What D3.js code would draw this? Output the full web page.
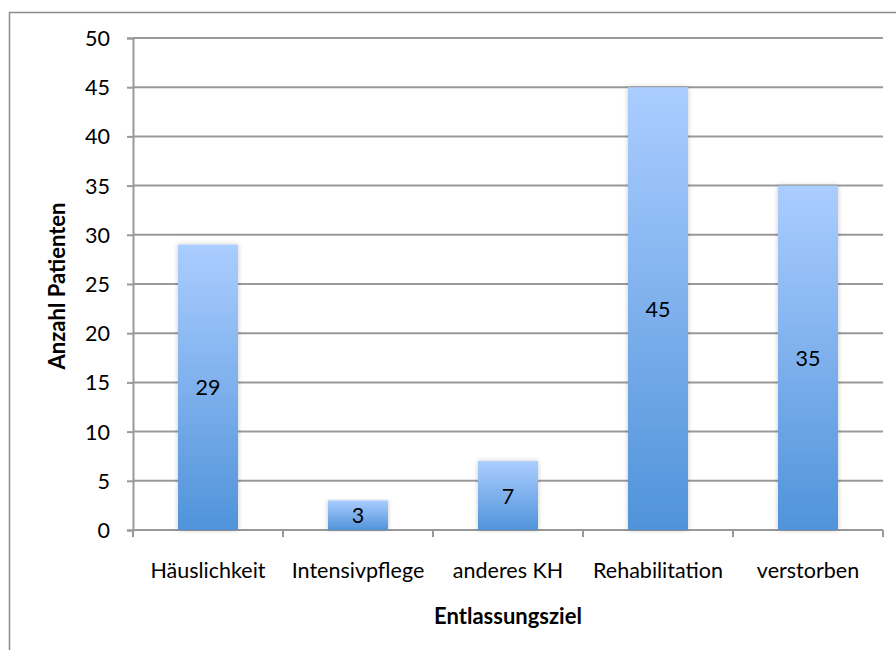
<!DOCTYPE html>
<html><head><meta charset="utf-8">
<script src="https://cdn.jsdelivr.net/npm/d3@7"></script>
<style>body{margin:0;background:#fff}svg{display:block}text{font-family:Lato,"Open Sans",sans-serif;fill:#000}</style>
</head><body>
<script>
const categories = ["Häuslichkeit","Intensivpflege","anderes KH","Rehabilitation","verstorben"];
const values = [29,3,7,45,35];
const yTicks = [0,5,10,15,20,25,30,35,40,45,50];
const yTitle = "Anzahl Patienten";
const xTitle = "Entlassungsziel";

const W=896,H=650;
const svg=d3.select("body").append("svg").attr("width",W).attr("height",H);
const defs=svg.append("defs");
const g=defs.append("linearGradient").attr("id","bg").attr("x1",0).attr("y1",0).attr("x2",0).attr("y2",1);
g.append("stop").attr("offset","0%").attr("stop-color","#abcdff");
g.append("stop").attr("offset","100%").attr("stop-color","#5093da");
const f=defs.append("filter").attr("id","sh").attr("x","-20%").attr("y","-5%").attr("width","140%").attr("height","110%");
f.append("feDropShadow").attr("dx",0).attr("dy",0).attr("stdDeviation",2.5).attr("flood-color","#000").attr("flood-opacity",0.22);

// outer frame
svg.append("path").attr("d","M9.5,660V12.5H906").attr("fill","none").attr("stroke","#8c8c8c").attr("stroke-width",1.5);

const x=d3.scaleBand().domain(categories).range([133,883]).paddingInner(0.6).paddingOuter(0.3);
const y=d3.scaleLinear().domain([0,50]).range([530,38]);

// gridlines + y ticks
const yAxis=d3.axisLeft(y).tickValues(yTicks).tickSize(6).tickPadding(17);
const ya=svg.append("g").attr("transform","translate(133,0)").call(yAxis);
ya.select(".domain").attr("stroke","#999").attr("stroke-width",2);
ya.selectAll(".tick line").attr("stroke","#999").attr("stroke-width",2);
ya.selectAll(".tick text").attr("font-size",21.5).attr("font-family","Lato").attr("fill","#000").attr("dy","0.35em");
svg.append("g").selectAll("line").data(yTicks.filter(d=>d>0)).join("line")
  .attr("x1",133).attr("x2",883).attr("y1",d=>y(d)).attr("y2",d=>y(d))
  .attr("stroke","#999").attr("stroke-width",2);

// x axis
const xa=svg.append("g");
xa.append("line").attr("x1",133).attr("x2",883).attr("y1",y(0)).attr("y2",y(0)).attr("stroke","#999").attr("stroke-width",2);
xa.selectAll("line.t").data(categories.map((c,i)=>133+i*x.step()).concat([883])).join("line").attr("class","t")
  .attr("x1",d=>d).attr("x2",d=>d).attr("y1",y(0)).attr("y2",y(0)+7).attr("stroke","#999").attr("stroke-width",2);
xa.selectAll("text").data(categories).join("text")
  .attr("x",d=>x(d)+x.bandwidth()/2).attr("y",578).attr("text-anchor","middle").attr("font-size",21.5).text(d=>d);

// bars
svg.append("g").selectAll("rect").data(values).join("rect")
  .attr("x",(d,i)=>x(categories[i])).attr("width",x.bandwidth())
  .attr("y",d=>y(d)).attr("height",d=>y(0)-y(d))
  .attr("fill","url(#bg)").attr("filter","url(#sh)");
svg.append("g").selectAll("text").data(values).join("text")
  .attr("x",(d,i)=>x(categories[i])+x.bandwidth()/2).attr("y",d=>y(d/2)).attr("dy","0.38em")
  .attr("text-anchor","middle").attr("font-size",21.5).text(d=>d);

// titles
svg.append("text").attr("transform","translate(65,286) rotate(-90)").attr("text-anchor","middle")
  .attr("font-size",22).attr("font-weight","bold").text(yTitle);
svg.append("text").attr("x",508).attr("y",624).attr("text-anchor","middle")
  .attr("font-size",22).attr("font-weight","bold").text(xTitle);
</script>
</body></html>
